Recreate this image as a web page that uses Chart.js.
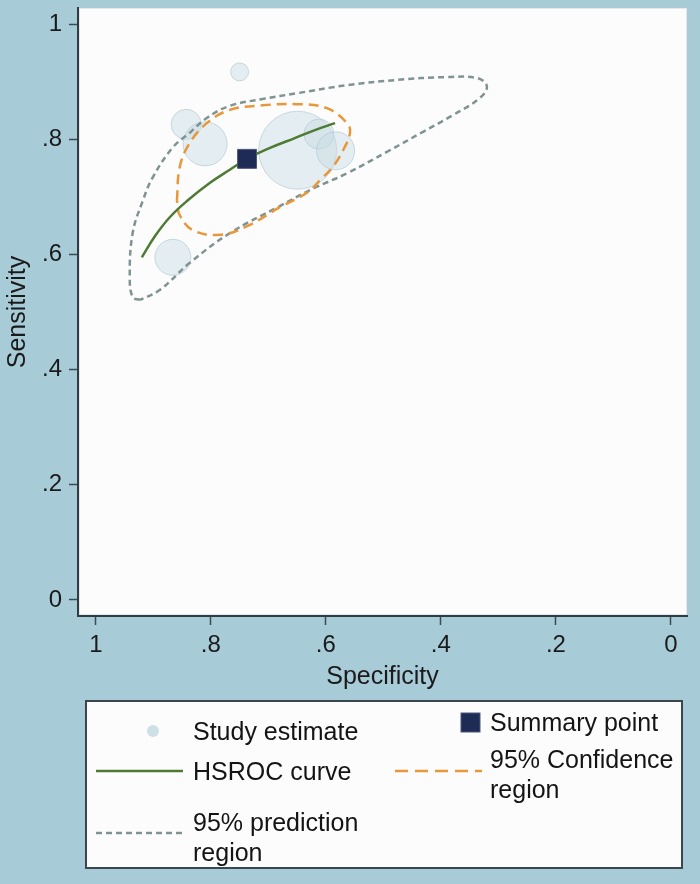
<!DOCTYPE html>
<html>
<head>
<meta charset="utf-8">
<script src="https://cdn.jsdelivr.net/npm/chart.js@4.4.1/dist/chart.umd.min.js"></script>
<style>
  body { margin: 0; background: #a8cbd8; width: 700px; height: 884px; overflow: hidden; position: relative;
         font-family: 'Liberation Sans', Arial, sans-serif; }
  #wrap { position: absolute; left: 0; top: 0; width: 700px; height: 700px; }
  #legend { position: absolute; left: 85px; top: 700px; width: 598px; height: 169px; box-sizing: border-box;
            border: 2px solid #3a4750; background: #fcfcfc; }
  .lbl { position: absolute; font-size: 25px; line-height: 30px; color: #141414; white-space: nowrap; }
  svg.sw { position: absolute; overflow: visible; }
</style>
</head>
<body>
<div id="wrap"><canvas id="sroc-chart"></canvas></div>

<div id="legend"></div>
<svg class="sw" style="left:0;top:0" width="700" height="884">
  <circle cx="153" cy="731" r="6" fill="rgba(200,220,228,0.9)" />
  <line x1="96" y1="771" x2="183" y2="771" stroke="#4e7a33" stroke-width="2.5" />
  <line x1="96" y1="833" x2="183" y2="833" stroke="#7f9393" stroke-width="2.5" stroke-dasharray="6,4" />
  <rect x="461" y="713" width="19" height="19" fill="#1e2b55" stroke="#4a5878" stroke-width="1" />
  <line x1="395" y1="771" x2="482" y2="771" stroke="#e8973a" stroke-width="2.5" stroke-dasharray="13,7" />
</svg>
<div class="lbl" style="left:193px;top:716px">Study estimate</div>
<div class="lbl" style="left:193px;top:756px">HSROC curve</div>
<div class="lbl" style="left:193px;top:807px">95% prediction<br>region</div>
<div class="lbl" style="left:490px;top:707px">Summary point</div>
<div class="lbl" style="left:490px;top:744px">95% Confidence<br>region</div>

<script>
// axis ticks
const tickValues = [0, 0.2, 0.4, 0.6, 0.8, 1];
const tickLabels = ['0', '.2', '.4', '.6', '.8', '1'];

// study estimates (specificity, sensitivity, bubble size)
const studySpec = [0.750, 0.843, 0.810, 0.649, 0.612, 0.583, 0.866];
const studySens = [0.917, 0.826, 0.792, 0.781, 0.809, 0.780, 0.595];
const studySize = [9, 15, 22, 39, 15, 19, 18];

// summary point
const summarySpec = [0.737];
const summarySens = [0.766];

// HSROC curve
const hsrocSpec = [0.920, 0.897, 0.871, 0.840, 0.802, 0.767, 0.737, 0.697, 0.654, 0.619, 0.584];
const hsrocSens = [0.595, 0.632, 0.665, 0.694, 0.724, 0.747, 0.766, 0.785, 0.802, 0.816, 0.828];

// 95% confidence region
const confSpec = [0.859, 0.854, 0.837, 0.807, 0.767, 0.710, 0.650, 0.598, 0.563, 0.558, 0.570, 0.588, 0.610, 0.633, 0.680, 0.737, 0.784, 0.831, 0.854, 0.859];
const confSens = [0.694, 0.752, 0.793, 0.828, 0.851, 0.859, 0.861, 0.854, 0.828, 0.811, 0.781, 0.752, 0.729, 0.707, 0.682, 0.649, 0.634, 0.642, 0.668, 0.694];

// 95% prediction region
const predSpec = [0.923, 0.936, 0.941, 0.936, 0.918, 0.901, 0.866, 0.837, 0.807, 0.767, 0.710, 0.650, 0.563, 0.477, 0.390, 0.336, 0.320, 0.332, 0.379, 0.431, 0.494, 0.563, 0.623, 0.680, 0.767, 0.837, 0.889, 0.923];
const predSens = [0.521, 0.526, 0.561, 0.637, 0.694, 0.734, 0.786, 0.811, 0.837, 0.858, 0.870, 0.880, 0.894, 0.903, 0.908, 0.906, 0.892, 0.872, 0.842, 0.813, 0.778, 0.741, 0.714, 0.684, 0.637, 0.585, 0.538, 0.521];

const toPts = (xs, ys) => xs.map((x, i) => ({ x: x, y: ys[i] }));

// white plot area
const plotBg = {
    id: 'plotBg',
    beforeDraw(chart) {
        const { ctx, chartArea } = chart;
        ctx.save();
        ctx.fillStyle = '#fcfcfc';
        ctx.fillRect(chartArea.left + 1, chartArea.top, chartArea.width - 1, chartArea.height - 1);
        ctx.strokeStyle = '#e4e8ea';
        ctx.lineWidth = 1;
        ctx.strokeRect(chartArea.left + 1.5, chartArea.top + 0.5, chartArea.width - 2, chartArea.height - 2);
        ctx.restore();
    }
};

// no extra room for edge labels, the plot area is fixed
const noPad = s => { s.paddingTop = 0; s.paddingBottom = 0; s.paddingLeft = 0; s.paddingRight = 0; };

const axisFont = { family: "'Liberation Sans', Arial, sans-serif", size: 24 };
const titleFont = { family: "'Liberation Sans', Arial, sans-serif", size: 25 };

const chart = new Chart(document.getElementById('sroc-chart'), {
    type: 'scatter',
    data: {
        datasets: [
            {
                // summary point
                label: 'Summary point',
                data: toPts(summarySpec, summarySens),
                pointStyle: 'rect',
                pointRadius: 13.4,
                backgroundColor: '#1e2b55',
                borderColor: '#4a5878',
                borderWidth: 1
            },
            {
                label: 'HSROC curve',
                type: 'line',
                data: toPts(hsrocSpec, hsrocSens),
                borderColor: '#4e7a33',
                borderWidth: 2.5,
                pointRadius: 0,
                tension: 0.4,
                fill: false
            },
            {
                label: '95% Confidence region',
                type: 'line',
                data: toPts(confSpec, confSens),
                borderColor: '#e8973a',
                borderWidth: 2.5,
                borderDash: [10, 6],
                pointRadius: 0,
                tension: 0.4,
                fill: false
            },
            {
                label: '95% prediction region',
                type: 'line',
                data: toPts(predSpec, predSens),
                borderColor: '#7f9393',
                borderWidth: 2.5,
                borderDash: [6, 4],
                pointRadius: 0,
                tension: 0.4,
                fill: false
            },
            {
                label: 'Study estimate',
                type: 'bubble',
                data: studySpec.map((x, i) => ({ x: x, y: studySens[i], r: studySize[i] })),
                backgroundColor: 'rgba(200, 220, 228, 0.45)',
                borderColor: 'rgba(170, 196, 206, 0.6)',
                borderWidth: 1
            }
        ]
    },
    options: {
        responsive: true,
        maintainAspectRatio: false,
        animation: false,
        layout: { autoPadding: false, padding: { top: 8, right: 13, left: 0, bottom: 0 } },
        plugins: {
            legend: { display: false },
            tooltip: { enabled: false }
        },
        scales: {
            x: {
                type: 'linear',
                reverse: true,
                min: -0.028,
                max: 1.031,
                afterBuildTicks: s => { s.ticks = tickValues.map(v => ({ value: v })); },
                afterFit: s => { s.height = 84; noPad(s); },
                ticks: {
                    color: '#1a1a1a',
                    font: axisFont,
                    padding: 6,
                    maxRotation: 0,
                    callback: v => tickLabels[tickValues.indexOf(v)]
                },
                grid: { drawOnChartArea: false, drawTicks: true, tickLength: 9, tickColor: '#3c4a55', tickWidth: 1.5 },
                border: { display: true, color: '#2f3b45', width: 2 },
                title: { display: true, text: 'Specificity', color: '#1a1a1a', font: titleFont, padding: { top: 0, bottom: 8 } }
            },
            y: {
                type: 'linear',
                min: -0.028,
                max: 1.028,
                afterBuildTicks: s => { s.ticks = tickValues.map(v => ({ value: v })); },
                afterFit: s => { s.width = 78; noPad(s); },
                ticks: {
                    color: '#1a1a1a',
                    font: axisFont,
                    padding: 7,
                    callback: v => tickLabels[tickValues.indexOf(v)]
                },
                grid: { drawOnChartArea: false, drawTicks: true, tickLength: 9, tickColor: '#3c4a55', tickWidth: 1.5 },
                border: { display: true, color: '#2f3b45', width: 2 },
                title: { display: true, text: 'Sensitivity', color: '#1a1a1a', font: titleFont, padding: { top: 3, bottom: 0 } }
            }
        }
    },
    plugins: [plotBg]
});
</script>
</body>
</html>
